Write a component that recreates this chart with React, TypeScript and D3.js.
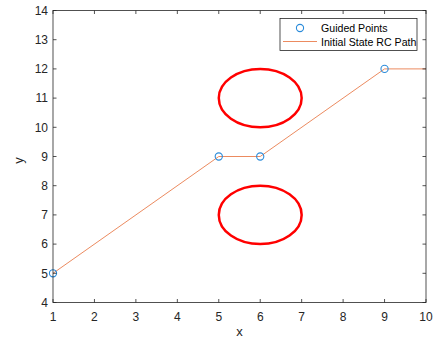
import * as React from 'react'
import * as d3 from 'd3'

const pathX = [1, 5, 6, 9, 10]
const pathY = [5, 9, 9, 12, 12]
const guidedX = [1, 5, 6, 9]
const guidedY = [5, 9, 9, 12]
const obstacleCx = [6, 6]
const obstacleCy = [11, 7]
const obstacleR = [1, 1]
const xTicks = [1, 2, 3, 4, 5, 6, 7, 8, 9, 10]
const yTicks = [4, 5, 6, 7, 8, 9, 10, 11, 12, 13, 14]
const legendLabels = ['Guided Points', 'Initial State RC Path']

const W = 433
const H = 338
const axisColor = '#262626'
const markerColor = '#2A8BDA'
const font = '"Liberation Sans", Arial, sans-serif'

export default function App() {
  const svgRef = React.useRef<SVGSVGElement>(null)

  React.useEffect(() => {
    if (!svgRef.current) return
    const svg = d3.select(svgRef.current)
    svg.selectAll('*').remove()

    const left = 53
    const right = 426
    const top = 10.5
    const bottom = 302.5

    const x = d3.scaleLinear().domain([1, 10]).range([left, right])
    const y = d3.scaleLinear().domain([4, 14]).range([bottom, top])

    svg.append('rect').attr('width', W).attr('height', H).attr('fill', '#fff')

    const plot = svg.append('g')

    // obstacles
    obstacleCx.forEach((cx, i) => {
      const r = obstacleR[i]
      plot
        .append('ellipse')
        .attr('cx', x(cx))
        .attr('cy', y(obstacleCy[i]))
        .attr('rx', x(cx + r) - x(cx))
        .attr('ry', y(obstacleCy[i]) - y(obstacleCy[i] + r))
        .attr('fill', 'none')
        .attr('stroke', '#FF0000')
        .attr('stroke-width', 2.5)
    })

    // path line
    const line = d3
      .line<number>()
      .x((_, i) => x(pathX[i]))
      .y((d) => y(d))
    plot
      .append('path')
      .datum(pathY)
      .attr('d', line)
      .attr('fill', 'none')
      .attr('stroke', '#EC8B60')
      .attr('stroke-width', 1)

    // guided points
    guidedX.forEach((gx, i) => {
      plot
        .append('circle')
        .attr('cx', x(gx))
        .attr('cy', y(guidedY[i]))
        .attr('r', 3.6)
        .attr('fill', 'none')
        .attr('stroke', markerColor)
        .attr('stroke-width', 1.1)
    })

    // axes box
    svg
      .append('rect')
      .attr('x', left)
      .attr('y', top)
      .attr('width', right - left)
      .attr('height', bottom - top)
      .attr('fill', 'none')
      .attr('stroke', axisColor)
      .attr('stroke-width', 0.8)

    const tickLen = 3.5
    xTicks.forEach((t) => {
      const px = x(t)
      svg.append('line').attr('x1', px).attr('x2', px).attr('y1', bottom).attr('y2', bottom - tickLen).attr('stroke', axisColor).attr('stroke-width', 0.8)
      svg.append('line').attr('x1', px).attr('x2', px).attr('y1', top).attr('y2', top + tickLen).attr('stroke', axisColor).attr('stroke-width', 0.8)
      svg
        .append('text')
        .attr('x', px)
        .attr('y', bottom + 18)
        .attr('text-anchor', 'middle')
        .attr('font-family', font)
        .attr('font-size', '12px')
        .attr('fill', axisColor)
        .text(t)
    })
    yTicks.forEach((t) => {
      const py = y(t)
      svg.append('line').attr('x1', left).attr('x2', left + tickLen).attr('y1', py).attr('y2', py).attr('stroke', axisColor).attr('stroke-width', 0.8)
      svg.append('line').attr('x1', right).attr('x2', right - tickLen).attr('y1', py).attr('y2', py).attr('stroke', axisColor).attr('stroke-width', 0.8)
      svg
        .append('text')
        .attr('x', left - 5)
        .attr('y', py + 4.3)
        .attr('text-anchor', 'end')
        .attr('font-family', font)
        .attr('font-size', '12px')
        .attr('fill', axisColor)
        .text(t)
    })

    // axis labels
    svg
      .append('text')
      .attr('x', (left + right) / 2)
      .attr('y', 336)
      .attr('text-anchor', 'middle')
      .attr('font-family', font)
      .attr('font-size', '13px')
      .attr('fill', axisColor)
      .text('x')
    svg
      .append('text')
      .attr('transform', `translate(23,${(top + bottom) / 2 + 4}) rotate(-90)`)
      .attr('text-anchor', 'middle')
      .attr('font-family', font)
      .attr('font-size', '13px')
      .attr('fill', axisColor)
      .text('y')

    // legend
    const lg = svg.append('g').attr('transform', 'translate(280,18.5)')
    lg.append('rect')
      .attr('width', 137)
      .attr('height', 32)
      .attr('fill', '#fff')
      .attr('stroke', axisColor)
      .attr('stroke-width', 0.8)
    lg.append('circle')
      .attr('cx', 20)
      .attr('cy', 9.5)
      .attr('r', 3.6)
      .attr('fill', 'none')
      .attr('stroke', markerColor)
      .attr('stroke-width', 1.1)
    lg.append('line')
      .attr('x1', 3)
      .attr('x2', 37)
      .attr('y1', 23)
      .attr('y2', 23)
      .attr('stroke', '#EC8B60')
      .attr('stroke-width', 1)
    legendLabels.forEach((label, i) => {
      lg.append('text')
        .attr('x', 41)
        .attr('y', 13.5 + i * 13.5)
        .attr('font-family', font)
        .attr('font-size', '10.6px')
        .attr('fill', '#000')
        .text(label)
    })
  }, [])

  return (
    <svg
      ref={svgRef}
      width={W}
      height={H}
      style={{ position: 'absolute', left: 0, top: 0 }}
    />
  )
}
